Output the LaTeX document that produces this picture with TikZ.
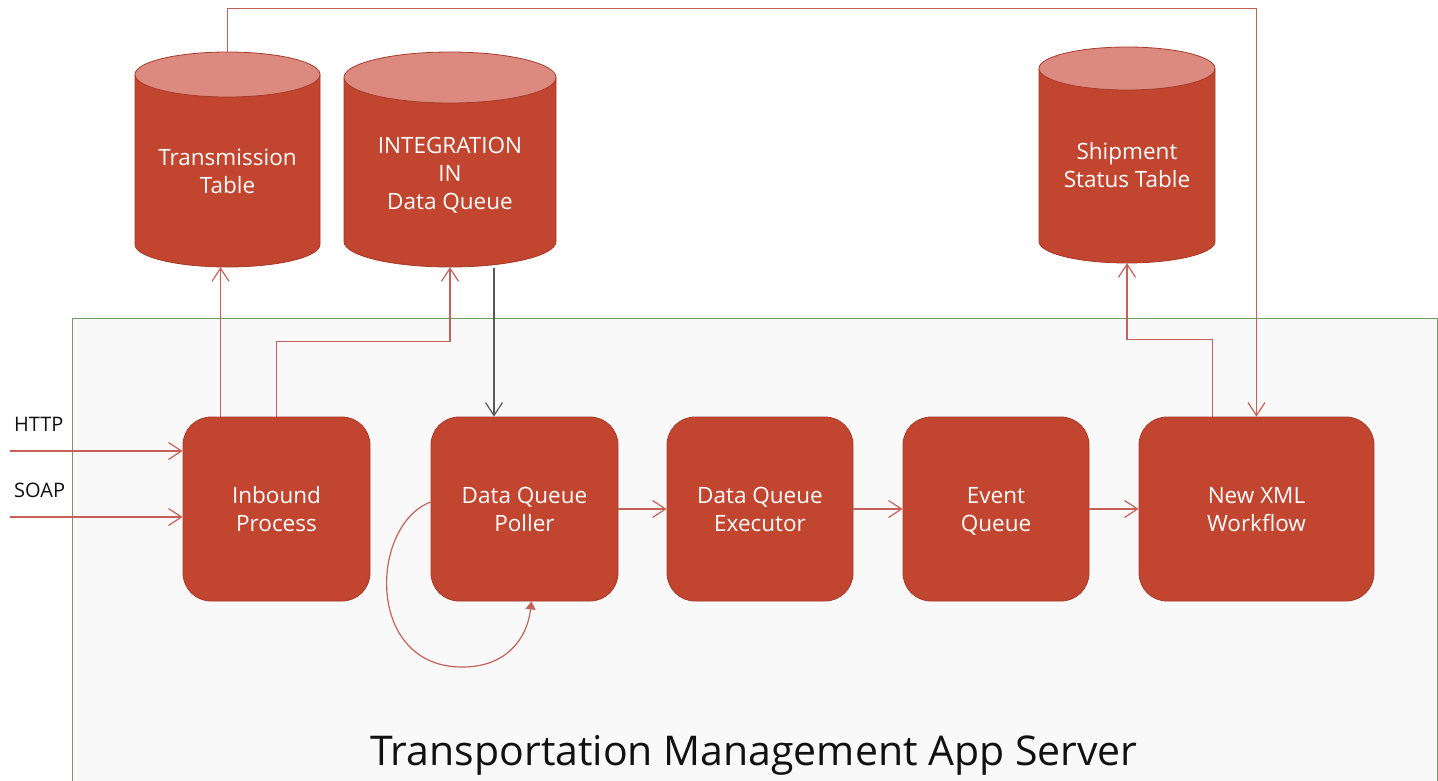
\documentclass[tikz,border=0pt]{standalone}
\usepackage{fontspec}
\setmainfont{Open Sans}
\usetikzlibrary{arrows.meta,calc}
\definecolor{boxred}{HTML}{C1452F}
\definecolor{boxedge}{HTML}{A63B2A}
\definecolor{cyltop}{HTML}{DC8A80}
\definecolor{linered}{HTML}{C4625A}
\definecolor{linegray}{HTML}{595959}
\definecolor{srvedge}{HTML}{6E9E62}
\definecolor{srvfill}{HTML}{F9F9F9}
\definecolor{txtdark}{HTML}{111111}
\newcommand\ls{\rule[-6pt]{0pt}{28pt}}
\newcommand\dbcyl[8]{% name, L, R, T, B, ry, text, text y
  \pgfmathsetmacro\cylcx{(#2+#3)/2}
  \pgfmathsetmacro\cylrw{(#3-#2)/2}
  \pgfmathsetmacro\cylw{#3-#2}
  \pgfmathsetmacro\cylh{#5-#4}
  \pgfmathsetmacro\cylcy{(#4+#5)/2}
  \fill[boxred] (#2,#4+#6) -- (#2,#5-#6) arc[start angle=180,end angle=360,x radius=\cylrw pt,y radius=#6 pt] -- (#3,#4+#6) -- cycle;
  \draw[boxedge,line width=0.8pt] (#2,#4+#6) -- (#2,#5-#6) arc[start angle=180,end angle=360,x radius=\cylrw pt,y radius=#6 pt] -- (#3,#4+#6);
  \filldraw[fill=cyltop,draw=boxedge,line width=0.8pt] (\cylcx,#4+#6) ellipse[x radius=\cylrw pt,y radius=#6 pt];
  \node[cylshape,minimum width=\cylw pt,minimum height=\cylh pt] (#1) at (\cylcx,\cylcy) {};
  \node[boxtext] (#1-label) at (\cylcx,#8) {#7};
}
\begin{document}
\begin{tikzpicture}[x=1pt,y=-1pt,
  procbox/.style={rectangle,rounded corners=28pt,fill=boxred,draw=boxedge,line width=0.8pt,
    minimum height=184pt,inner sep=0pt,text=white,align=center,font=\fontsize{22.5}{28}\selectfont},
  boxtext/.style={text=white,align=center,inner sep=0pt,font=\fontsize{22.5}{28}\selectfont},
  cylshape/.style={rectangle,inner sep=0pt,draw=none},
  conn/.style={draw=linered,line width=1.2pt,-{Straight Barb[length=13pt,width=17pt,line width=1.2pt]}},
  gconn/.style={draw=linegray,line width=1.2pt,-{Straight Barb[length=13pt,width=17pt,line width=1.2pt]}},
  lbl/.style={text=txtdark,inner sep=0pt,font=\fontsize{20}{24}\selectfont}
]
\useasboundingbox (0,0) rectangle (1438,780);
\fill[white] (0,0) rectangle (1438,780);
% server container
\node[rectangle,draw=srvedge,fill=srvfill,line width=1pt,anchor=north west,
  minimum width=1365pt,minimum height=500pt,inner sep=0pt] (server) at (72,318) {};
\node[anchor=base,inner sep=0pt,text=txtdark,font=\fontsize{41}{48}\selectfont] (title) at (754,765) {Transportation Management App Server};

% cylinders
\dbcyl{trans}{135}{320}{52}{267}{22.5}{Transmission\ls\\Table\ls}{171}
\dbcyl{integ}{344}{556}{52}{267}{25.5}{INTEGRATION\ls\\IN\ls\\Data Queue\ls}{173}
\dbcyl{ship}{1039}{1215}{47}{263}{21.5}{Shipment\ls\\Status Table\ls}{165}

% process boxes
\node[procbox,minimum width=187pt] (inb)  at (276.5,509) {Inbound\ls\\Process\ls};
\node[procbox,minimum width=187pt] (poll) at (524.5,509) {Data Queue\ls\\Poller\ls};
\node[procbox,minimum width=186pt] (exec) at (760,509)   {Data Queue\ls\\Executor\ls};
\node[procbox,minimum width=186pt] (evq)  at (996,509)   {Event\ls\\Queue\ls};
\node[procbox,minimum width=235pt] (xml)  at (1256.5,509) {New XML\ls\\Workflow\ls};

% inputs
\node[lbl,anchor=base west] (http) at (14,431) {HTTP};
\node[lbl,anchor=base west] (soap) at (14,497) {SOAP};
\coordinate (httpS) at (10,451);
\coordinate (soapS) at (10,517);
\draw[conn] (httpS) -- (httpS -| inb.west);
\draw[conn] (soapS) -- (soapS -| inb.west);

% inbound to tables
\coordinate (inbA) at ($(inb.north)+(-56,0)$);
\draw[conn] (inbA) -- (inbA |- trans.south);
\draw[conn] (inb.north) -- ++(0,-75) -| (integ.south);
% integration queue to poller
\coordinate (integB) at ($(integ.south)+(44,1)$);
\draw[gconn] (integB) -- (integB |- poll.north);

% chain
\draw[conn] (poll.east) -- (exec.west);
\draw[conn] (exec.east) -- (evq.west);
\draw[conn] (evq.east) -- (xml.west);

% loop on poller
\coordinate (loopS) at ($(poll.west)+(0,-7)$);
\coordinate (loopE) at ($(poll.south)+(7,0)$);
\draw[draw=linered,line width=1.2pt,-{Triangle[length=8pt,width=10pt]}]
  (loopS) .. controls (370,525) and (365,665) .. (460,667)
          .. controls (505,668) and (527,640) .. (loopE);

% transmission table to workflow
\draw[conn] (trans.north) -- ++(0,-43) -| (xml.north);
% workflow to shipment status
\coordinate (xmlA) at ($(xml.north)+(-44,0)$);
\draw[conn] (xmlA) -- ++(0,-77) -| (ship.south);
\end{tikzpicture}
\end{document}
